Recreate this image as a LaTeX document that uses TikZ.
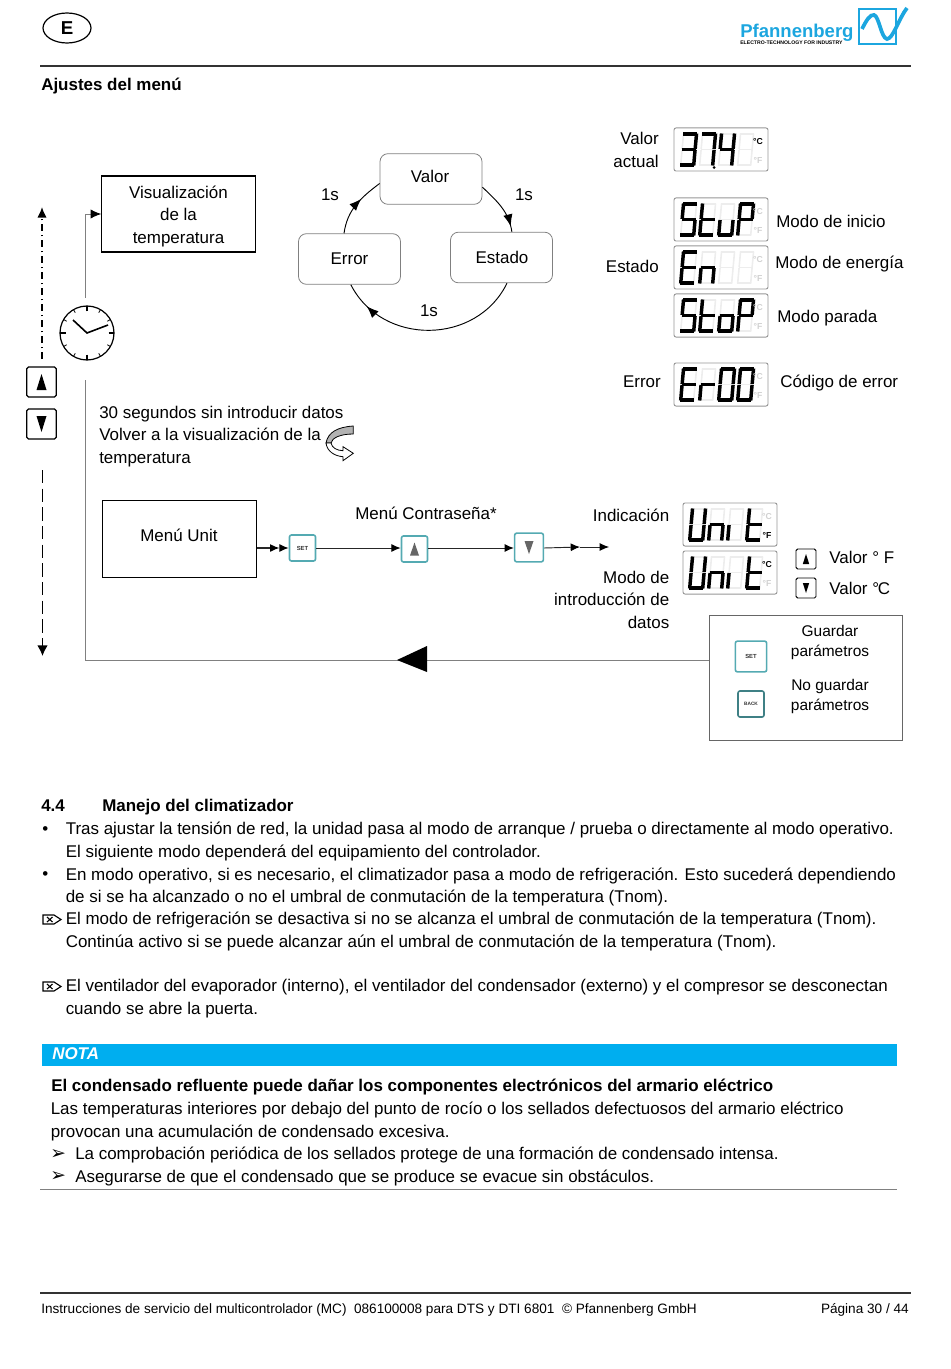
\documentclass[tikz,border=0pt]{standalone}
\usepackage{fontspec}
\setmainfont{Liberation Sans}
\newfontfamily\symfont{DejaVu Sans}
\usetikzlibrary{arrows.meta,decorations.markings,shapes.geometric}
\definecolor{pfblue}{RGB}{28,166,223}
\definecolor{notablue}{RGB}{0,174,239}
\definecolor{keyteal}{RGB}{84,170,178}
\definecolor{lcdgray}{RGB}{150,150,150}
\tikzset{
  pagetxt/.style={anchor=base west,inner sep=0pt,font=\fontsize{12.72}{15}\selectfont},
  boldtxt/.style={pagetxt,font=\bfseries\fontsize{12.72}{15}\selectfont},
  righttxt/.style={pagetxt,anchor=base east},
  midtxt/.style={pagetxt,anchor=base},
  flowbox/.style={draw,line width=0.9pt,minimum width=115pt,inner sep=0pt},
  roundbox/.style={draw=gray,line width=0.6pt,rounded corners=6pt,minimum width=76.5pt,minimum height=38pt,inner sep=0pt},
  lcdbox/.style={draw=lcdgray,line width=0.7pt,rounded corners=1.5pt,minimum width=70.5pt,minimum height=32.3pt,inner sep=0pt},
  lcdon/.style={line width=2.6pt,black},
  lcdoff/.style={line width=1.2pt,black!7},
  blackkey/.style={draw,line width=0.9pt,rounded corners=1.2pt,inner sep=0pt,fill=white},
  tealkey/.style={draw=keyteal,line width=1.2pt,rounded corners=1.5pt,inner sep=0pt,fill=white,font=\bfseries\fontsize{4.4}{5}\selectfont,text=black!80},
  tipat/.style={postaction={decorate},decoration={markings,mark=at position #1 with {\arrow{Latex[length=9pt,width=7pt]}}}},
  chain/.style={draw=black!85,line width=0.7pt},
  graywire/.style={draw=black!50,line width=0.7pt},
  dashdot/.style={line width=1pt,dash pattern=on 5pt off 3pt on 1pt off 3pt},
  longdash/.style={line width=1.1pt,dash pattern=on 10pt off 4pt},
  sega/.style={insert path={(-0.5,0)--(13.5,0)}},
  segb/.style={insert path={(13,0.5)--(13,-15)}},
  segc/.style={insert path={(13,-16)--(13,-31.5)}},
  segd/.style={insert path={(-0.5,-31)--(13.5,-31)}},
  sege/.style={insert path={(0,-16)--(0,-31.5)}},
  segf/.style={insert path={(0,0.5)--(0,-15)}},
  segg/.style={insert path={(-0.5,-15.5)--(13.5,-15.5)}},
  segnone/.style={}
}
% one display: name, left, top, lit segments per digit, colours of the two units
\newcommand{\lcdpanel}[6]{
  \node[lcdbox] (#1) at (#2+47,-#3-21.5) {};
  \foreach \segs [count=\i from 0] in {#4} {
    \begin{scope}[shift={({#2+9.5+19*\i},{-#3-6})},xslant=0.09]
      \foreach \s in {a,b,c,d,e,f,g} \draw[lcdoff,seg\s];
      \foreach \s in \segs \draw[lcdon,seg\s];
    \end{scope}
  }
  \node[inner sep=0pt,font=\bfseries\fontsize{6.5}{7}\selectfont,text=#5] (#1c) at (#2+84,-#3-14) {°C};
  \node[inner sep=0pt,font=\bfseries\fontsize{6.5}{7}\selectfont,text=#6] (#1f) at (#2+84,-#3-32) {°F};
}
% triangle on a key: key, half width, half height (negative points down), colour
\newcommand{\keytip}[4]{
  \fill[#4] ([shift={(-#2,{-1*(#3)})}]#1.center) -- ([shift={(#2,{-1*(#3)})}]#1.center) -- ([shift={(0,#3)}]#1.center) -- cycle;
}
\newcommand{\noteicon}[1]{
  \draw[line width=0.85pt,shift={(0,#1)}] (43,0) -- (54,0) -- (61,-4.5) -- (54,-9) -- (43,-9) -- cycle
    (47,-2) -- (52.5,-7) (47,-7) -- (52.5,-2);
}
\begin{document}
\begin{tikzpicture}[x=0.75pt,y=0.75pt]
  \useasboundingbox (0,0) rectangle (950,-1369);
  % page head
  \node[draw,ellipse,line width=0.9pt,minimum width=36pt,minimum height=22.5pt,inner sep=0pt,font=\bfseries\fontsize{14}{15}\selectfont] (langmark) at (67,-28) {E};
  \node[anchor=base west,inner sep=0pt,text=pfblue,font=\bfseries\fontsize{13.9}{18}\selectfont] (brand) at (740,-37.5) {Pfannenberg};
  \node[anchor=base west,inner sep=0pt,font=\bfseries\fontsize{3.85}{5}\selectfont] (slogan) at (740,-45) {ELECTRO-TECHNOLOGY FOR INDUSTRY};
  \draw[pfblue,line width=1.5pt] (859,-9) rectangle (896,-44);
  \draw[pfblue,line width=2.8pt] (862,-29) .. controls (866,-21) and (870,-14) .. (874,-15) .. controls (879,-16) and (881,-38) .. (887,-39) .. controls (893,-39) and (899,-18) .. (907,-8);
  \draw[line width=0.8pt,black!80] (40,-66) -- (911,-66);
  \node[boldtxt] (menutitle) at (41,-91) {Ajustes del menú};

  % top left: temperature view and cycle of the three values
  \node[flowbox,minimum height=57pt] (tempview) at (178.5,-214) {};
  \foreach \y/\name/\txt in {
    198.5/viewa/Visualización,
    220.5/viewb/de la,
    243.5/viewc/temperatura} {
    \node[midtxt] (\name) at (178.5,-\y) {\txt};
  }
  \node[roundbox] (valorbox) at (431,-179) {};
  \node[roundbox] (estadobox) at (501.5,-257.5) {};
  \node[roundbox] (errorbox) at (349.5,-259) {};
  \node[midtxt] (valorname) at (430,-183) {Valor};
  \node[midtxt] (estadoname) at (502,-264) {Estado};
  \node[midtxt] (errorname) at (349.5,-264.5) {Error};
  \draw[line width=0.7pt,tipat=0.62] (errorbox.102) to[out=82,in=217] (valorbox.185);
  \draw[line width=0.7pt,tipat=0.9] (valorbox.351) to[out=-44,in=99] (estadobox.68);
  \draw[line width=0.7pt,tipat=0.86] (estadobox.-78) to[out=-116,in=297,looseness=1.13] (errorbox.-87);
  \node[midtxt] (oneleft) at (330,-201) {1s};
  \node[midtxt] (oneright) at (524,-201) {1s};
  \node[midtxt] (onebottom) at (429,-316) {1s};

  % displays of the top right
  \lcdpanel{dispvalue}{674}{128}{{a,b,c,d,g},{a,b,c},{b,c,f,g},{none}}{black}{black!18}
  \fill (714,-167.5) circle (1.5);
  \lcdpanel{dispstup}{674}{198}{{a,c,d,f,g},{d,e,f,g},{c,d,e},{a,b,e,f,g}}{black!18}{black!18}
  \lcdpanel{dispen}{674}{246}{{a,d,e,f,g},{c,e,g},{none},{none}}{black!18}{black!18}
  \lcdpanel{dispstop}{674}{294}{{a,c,d,f,g},{d,e,f,g},{c,d,e,g},{a,b,e,f,g}}{black!18}{black!18}
  \lcdpanel{disperror}{674}{363}{{a,d,e,f,g},{e,g},{a,b,c,d,e,f},{a,b,c,d,e,f}}{black!18}{black!18}
  \foreach \x/\y/\name/\txt in {
    659/145/valuea/Valor,
    659/168/valueb/actual,
    659/272.5/stateleft/Estado,
    661/387.5/errorleft/Error} {
    \node[righttxt] (\name) at (\x,-\y) {\txt};
  }
  \foreach \x/\y/\name/\txt in {
    776/228/modestart/Modo de inicio,
    775/269/modepower/Modo de energía,
    777/322/modestop/Modo parada,
    780/387.5/errorcode/Código de error} {
    \node[pagetxt] (\name) at (\x,-\y) {\txt};
  }

  % clock, wires and keys of the left edge
  \coordinate (wiretop) at (85,-298);
  \coordinate (wirelow) at (85,-380);
  \coordinate (wirebend) at (85,-660);
  \node[blackkey,minimum width=22pt,minimum height=22.5pt] (upkey) at (41.5,-382) {};
  \node[blackkey,minimum width=22pt,minimum height=22.5pt] (downkey) at (41.5,-424) {};
  \keytip{upkey}{5}{8}{black}
  \keytip{downkey}{5}{-8}{black}
  \coordinate (dashtop) at (42,-207);
  \coordinate (dashstart) at (42,-359);
  \coordinate (dashlow) at (42.5,-470);
  \coordinate (dashend) at (42.5,-656);
  \draw[dashdot,-{Latex[length=8pt,width=7pt]}] (dashstart) -- (dashtop);
  \draw[longdash,-{Latex[length=8pt,width=8pt]}] (dashlow) -- (dashend);
  \draw[graywire,-{Latex[black,length=8pt,width=7pt]}] (wiretop) |- (tempview.west);
  \begin{scope}[shift={(87,-333)}]
    \draw[line width=0.9pt] (0,0) circle (27);
    \foreach \a in {0,30,...,330} \draw[line width=0.6pt] (\a:23.5) -- (\a:27);
    \foreach \a in {0,90,180,270} \draw[line width=1.1pt] (\a:21.5) -- (\a:27);
    \draw[line width=1.2pt] (-14,13) -- (0,0) -- (21,8);
  \end{scope}
  \foreach \y/\name/\txt in {
    418/waita/30 segundos sin introducir datos,
    440/waitb/Volver a la visualización de la,
    463/waitc/temperatura} {
    \node[pagetxt] (\name) at (99,-\y) {\txt};
  }
  % turn-back arrow
  \draw[line width=0.6pt,fill=black!30] (353.3,-426) .. controls (338,-427) and (328,-432) .. (326,-443) -- (331,-443) .. controls (332,-438) and (340,-434) .. (353.3,-434) -- cycle;
  \draw[line width=0.6pt,fill=white] (326,-443) .. controls (327,-451) and (334,-456) .. (343,-456.7) -- (343,-460.7) -- (353.3,-453.3) -- (343,-446.7) -- (343,-450.7) .. controls (337,-450.5) and (332,-448) .. (331,-443) -- cycle;

  % menu chain
  \node[flowbox,minimum height=58pt] (menuunit) at (179.5,-539) {};
  \node[midtxt] (menuunitname) at (179,-541) {Menú Unit};
  \node[tealkey,minimum width=19.5pt,minimum height=19.5pt] (setkey) at (302.5,-548) {SET};
  \node[tealkey,minimum width=19.5pt,minimum height=19.5pt] (upstep) at (414.5,-549) {};
  \node[tealkey,minimum width=21.5pt,minimum height=21.5pt] (downstep) at (529,-547.5) {};
  \keytip{upstep}{4.5}{6.5}{black!60}
  \keytip{downstep}{4.5}{-6.5}{black!60}
  \coordinate (chainend) at (609,-547);
  \coordinate (chainmid) at (580,-547);
  \draw[chain,line width=0.9pt,-{Latex[black,length=7pt,width=6pt].Latex[black,length=7pt,width=6pt]}] (menuunit.east |- setkey) -- (setkey);
  \draw[chain,-{Latex[black,length=7pt,width=6pt]}] (setkey) -- (upstep.west |- setkey);
  \draw[chain,-{Latex[black,length=7pt,width=6pt]}] (upstep.east |- setkey) -- (downstep.west |- setkey);
  \draw[chain,-{Latex[black,length=7pt,width=6pt]}] (downstep.east |- setkey) -- (chainmid);
  \draw[chain,-{Latex[black,length=7pt,width=6pt]}] (chainmid) -- (chainend);
  \node[midtxt] (passmenu) at (426,-519.5) {Menú Contraseña*};
  \foreach \y/\name/\txt in {
    521.5/showlabel/Indicación,
    583.5/inputa/Modo de,
    605.5/inputb/introducción de,
    628.5/inputc/datos} {
    \node[righttxt] (\name) at (669.5,-\y) {\txt};
  }
  \lcdpanel{unitf}{683}{503}{{b,c,d,e,f},{c,e,g},{e},{d,e,f,g}}{black!18}{black}
  \lcdpanel{unitc}{683}{551}{{b,c,d,e,f},{c,e,g},{e},{d,e,f,g}}{black}{black!18}
  \node[blackkey,minimum width=15pt,minimum height=15pt,line width=0.7pt] (upsmall) at (806,-559) {};
  \node[blackkey,minimum width=15pt,minimum height=15pt,line width=0.7pt] (downsmall) at (806,-588) {};
  \keytip{upsmall}{3.2}{5}{black}
  \keytip{downsmall}{3.2}{-5}{black}
  \node[pagetxt] (valuef) at (829,-563.5) {Valor ° F};
  \node[pagetxt] (valuec) at (829,-594.5) {Valor °\kern-1pt C};

  % save box and way back
  \node[draw=black!60,line width=0.7pt,minimum width=144.75pt,minimum height=93.75pt,inner sep=0pt] (savebox) at (805.5,-677.5) {};
  \foreach \y/\name/\txt in {
    636/savea/Guardar,
    656/saveb/parámetros,
    690/savec/No guardar,
    710/saved/parámetros} {
    \node[midtxt,font=\fontsize{11.6}{13}\selectfont] (\name) at (830,-\y) {\txt};
  }
  \node[tealkey,minimum width=23.5pt,minimum height=23pt] (setsave) at (751,-656.5) {SET};
  \node[tealkey,draw=keyteal!75!black,minimum width=19.5pt,minimum height=19.5pt,font=\bfseries\fontsize{3.6}{4}\selectfont] (backsave) at (751,-704) {BACK};
  \draw[graywire] (savebox.west |- wirebend) -- (wirebend) -- (wirelow);
  \fill (427,-646) -- (427,-672) -- (397,-660) -- cycle;

  % running text
  \node[boldtxt] (secnum) at (41,-811.7) {4.4};
  \node[boldtxt] (sectitle) at (102,-811.7) {Manejo del climatizador};
  \node[pagetxt] (bulleta) at (42,-834.7) {•};
  \node[pagetxt] (bulletb) at (42,-879.7) {•};
  \noteicon{-915}
  \noteicon{-982}
  \foreach \y/\name/\txt in {
    834.7/linea/{Tras ajustar la tensión de red, la unidad pasa al modo de arranque / prueba o directamente al modo operativo.},
    857.2/lineb/{El siguiente modo dependerá del equipamiento del controlador.},
    880/linec/{En modo operativo, si es necesario, el climatizador pasa a modo de refrigeración. Esto sucederá dependiendo},
    902.2/lined/{de si se ha alcanzado o no el umbral de conmutación de la temperatura (Tnom).},
    924.7/linee/{El modo de refrigeración se desactiva si no se alcanza el umbral de conmutación de la temperatura (Tnom).},
    947.2/linef/{Continúa activo si se puede alcanzar aún el umbral de conmutación de la temperatura (Tnom).},
    991.7/lineg/{El ventilador del evaporador (interno), el ventilador del condensador (externo) y el compresor se desconectan},
    1014.2/lineh/{cuando se abre la puerta.}} {
    \node[pagetxt] (\name) at (65.5,-\y) {\txt};
  }

  % note block
  \fill[notablue] (42,-1044) rectangle (897,-1066);
  \node[boldtxt,text=white,font=\bfseries\itshape\fontsize{12.72}{15}\selectfont] (notatitle) at (52,-1059) {NOTA};
  \node[boldtxt] (notahead) at (51,-1091.7) {El condensado refluente puede dañar los componentes electrónicos del armario eléctrico};
  \node[pagetxt] (notaa) at (50.5,-1114.7) {Las temperaturas interiores por debajo del punto de rocío o los sellados defectuosos del armario eléctrico};
  \node[pagetxt] (notab) at (50.5,-1137.2) {provocan una acumulación de condensado excesiva.};
  \node[pagetxt,font=\symfont\fontsize{14}{15}\selectfont] (marka) at (50,-1159) {➢};
  \node[pagetxt,font=\symfont\fontsize{14}{15}\selectfont] (markb) at (50,-1181) {➢};
  \node[pagetxt] (notac) at (75,-1159.7) {La comprobación periódica de los sellados protege de una formación de condensado intensa.};
  \node[pagetxt] (notad) at (75,-1182) {Asegurarse de que el condensado que se produce se evacue sin obstáculos.};
  \draw[line width=0.7pt,black!50] (40,-1189) -- (897,-1189);

  % page foot
  \draw[line width=0.8pt,black!80] (40,-1293) -- (911,-1293);
  \node[pagetxt,font=\fontsize{10.2}{12}\selectfont] (footleft) at (41,-1313) {Instrucciones de servicio del multicontrolador (MC)\ \ 086100008 para DTS y DTI 6801\ \ © Pfannenberg GmbH};
  \node[righttxt,font=\fontsize{10.2}{12}\selectfont] (footright) at (909,-1313) {Página 30 / 44};
\end{tikzpicture}
\end{document}
